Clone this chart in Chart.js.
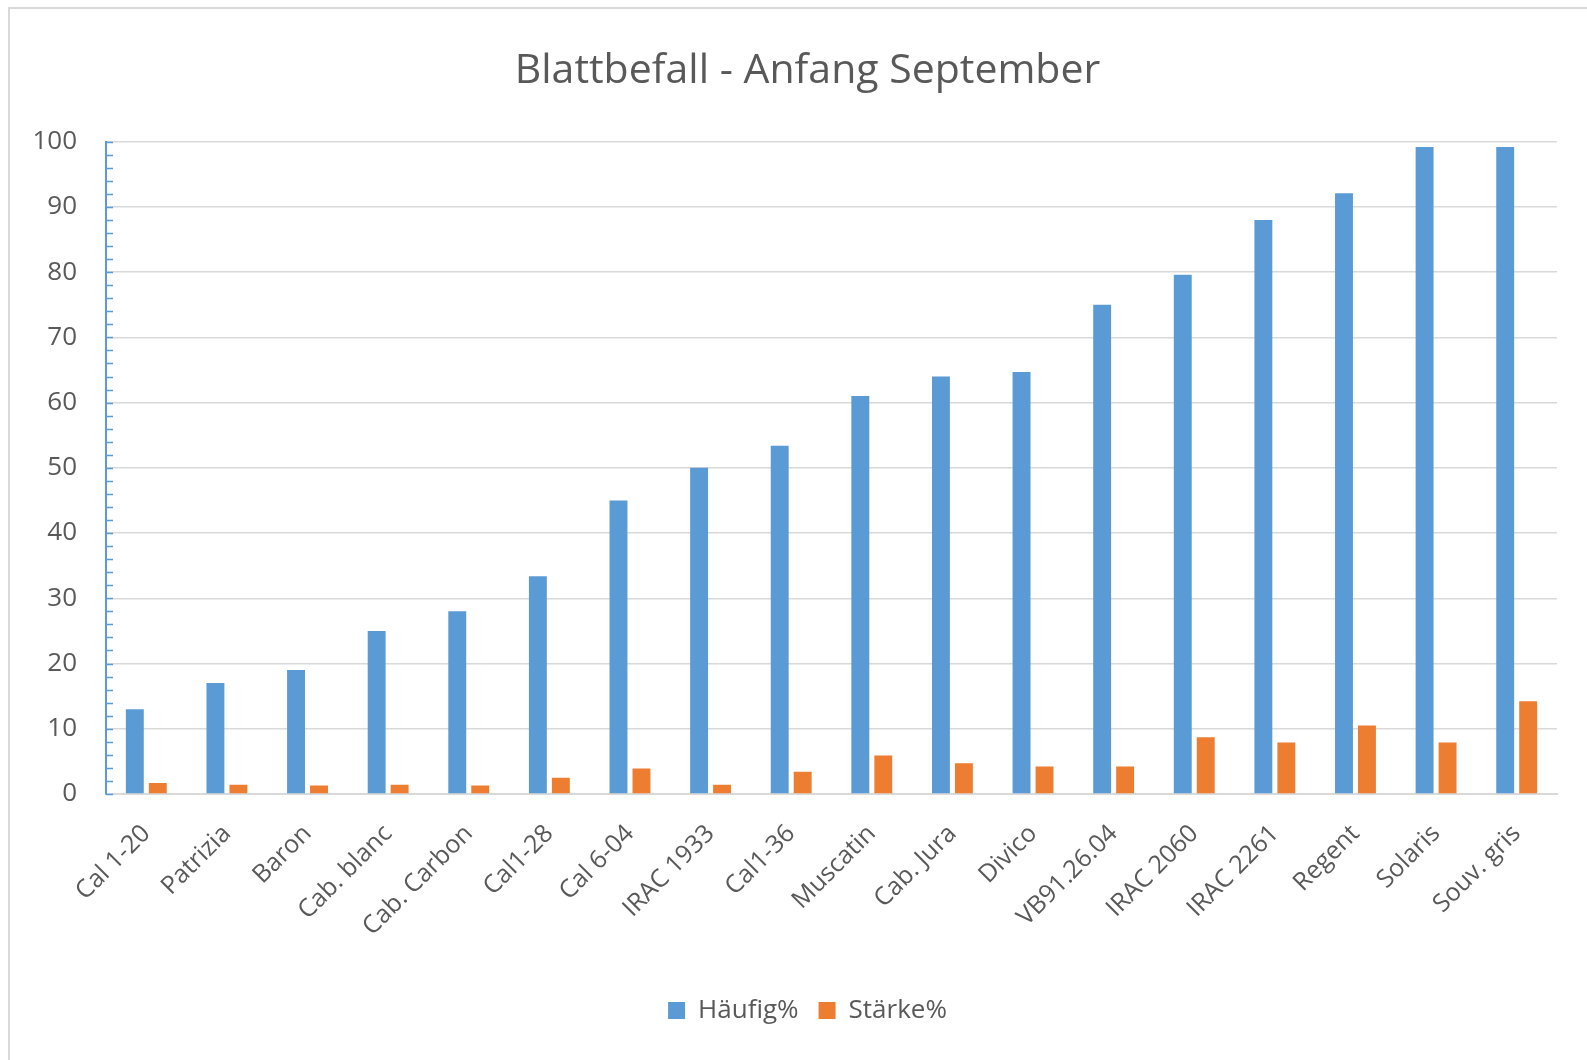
<!DOCTYPE html>
<html>
<head>
<meta charset="utf-8">
<script src="https://cdn.jsdelivr.net/npm/chart.js@4.4.1/dist/chart.umd.min.js"></script>
<style>
    html, body { margin: 0; padding: 0; background: #fff; }
    #frame { position: absolute; left: 8px; top: 7px; width: 1700px; height: 1200px; border: 2px solid #d9d9d9; }
    #wrap { position: absolute; left: 0; top: 0; width: 1587px; height: 1060px; }
</style>
</head>
<body>
<div id="frame"></div>
<div id="wrap"><canvas id="Blatt" width="1587" height="1060"></canvas></div>
<script>
    var sorten = ['Cal 1-20', 'Patrizia', 'Baron', 'Cab. blanc', 'Cab. Carbon', 'Cal1-28', 'Cal 6-04',
        'IRAC 1933', 'Cal1-36', 'Muscatin', 'Cab. Jura', 'Divico', 'VB91.26.04', 'IRAC 2060',
        'IRAC 2261', 'Regent', 'Solaris', 'Souv. gris'];
    var haeufig = [13, 17, 19, 25, 28, 33.4, 45, 50, 53.4, 61, 64, 64.7, 75, 79.6, 88, 92.1, 99.2, 99.2];
    var staerke = [1.7, 1.4, 1.3, 1.4, 1.3, 2.5, 3.9, 1.4, 3.4, 5.9, 4.7, 4.2, 4.2, 8.7, 7.9, 10.5, 7.9, 14.2];
    var yTicks = [0, 10, 20, 30, 40, 50, 60, 70, 80, 90, 100];

    var grau = '#595959';
    var schrift = "'Open Sans', sans-serif";

    // kleine Striche an der y-Achse (alle 2 Einheiten)
    var minorTicks = {
        id: 'minorTicks',
        afterDatasetsDraw: function (chart) {
            var y = chart.scales.y;
            var ctx = chart.ctx;
            var x0 = chart.chartArea.left;
            ctx.save();
            ctx.strokeStyle = '#5B9BD5';
            ctx.lineWidth = 1.5;
            for (var v = 0; v <= 100; v += 2) {
                var py = Math.round(y.getPixelForValue(v)) + 0.5;
                ctx.beginPath();
                ctx.moveTo(x0, py);
                ctx.lineTo(x0 + 7, py);
                ctx.stroke();
            }
            ctx.restore();
        }
    };

    // Titel und Legende sitzen im Original etwas rechts von der Mitte
    var versatz = {
        id: 'versatz',
        afterLayout: function (chart) {
            chart.legend.left += 29;
            chart.legend.right += 29;
            chart.titleBlock.left += 29;
            chart.titleBlock.right += 29;
        }
    };

    var chartdata = {
        labels: sorten,
        datasets: [
            {
                label: 'Häufig%',
                backgroundColor: '#5B9BD5',
                borderWidth: 0,
                data: haeufig
            },
            {
                label: 'Stärke%',
                backgroundColor: '#ED7D31',
                borderWidth: 0,
                data: staerke
            }
        ]
    };

    var barGraph = new Chart(document.getElementById('Blatt'), {
        type: 'bar',
        data: chartdata,
        plugins: [minorTicks, versatz],
        options: {
            responsive: false,
            animation: false,
            categoryPercentage: 0.57,
            barPercentage: 0.78,
            layout: { padding: { left: 0, right: 30, top: 0, bottom: 26.5 } },
            plugins: {
                title: {
                    display: true,
                    text: 'Blattbefall - Anfang September',
                    color: grau,
                    font: { family: schrift, size: 41, weight: 'normal' },
                    padding: { top: 47, bottom: 45.5 }
                },
                legend: {
                    position: 'bottom',
                    labels: {
                        color: grau,
                        boxWidth: 17,
                        boxHeight: 17,
                        padding: 20,
                        font: { family: schrift, size: 26 }
                    }
                },
                tooltip: { enabled: false }
            },
            scales: {
                x: {
                    afterFit: function (s) { s.height = 183.5; },
                    grid: { display: false },
                    border: { color: '#D9D9D9', width: 2 },
                    ticks: {
                        color: grau,
                        autoSkip: false,
                        minRotation: 45,
                        maxRotation: 45,
                        padding: 17,
                        font: { family: schrift, size: 25 }
                    }
                },
                y: {
                    min: 0,
                    max: 100,
                    afterFit: function (s) { s.width = 106; },
                    afterBuildTicks: function (s) {
                        s.ticks = yTicks.map(function (v) { return { value: v }; });
                    },
                    grid: { color: '#D9D9D9', lineWidth: 1.5, drawTicks: false },
                    border: { color: '#5B9BD5', width: 2 },
                    ticks: {
                        color: grau,
                        padding: 29,
                        font: { family: schrift, size: 26 }
                    }
                }
            }
        }
    });
</script>
</body>
</html>
